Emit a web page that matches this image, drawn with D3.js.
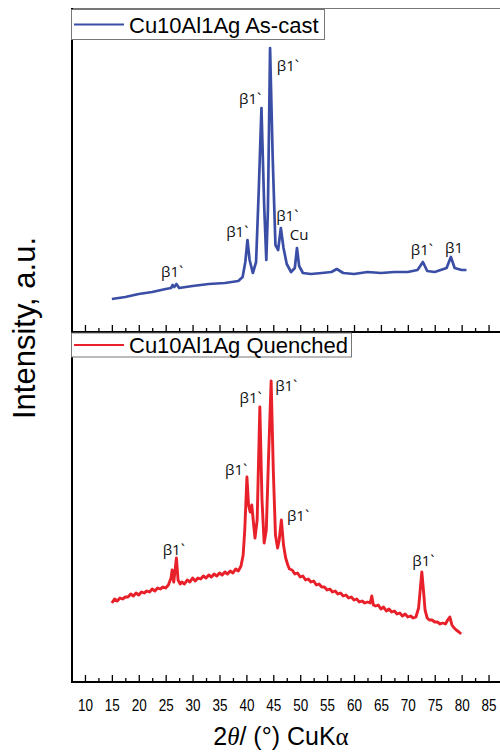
<!DOCTYPE html>
<html>
<head>
<meta charset="utf-8">
<script src="https://cdn.jsdelivr.net/npm/d3@7"></script>
<style>
  body { margin: 0; background: #fff; }
  svg { display: block; }
</style>
</head>
<body>
<script>
// Two-theta positions (deg) and intensities (a.u.)
const castTheta = [15, 17.5, 20, 22.5, 25, 26.0, 26.3, 26.6, 27.0, 27.5, 30, 33, 36, 38.5, 39.3, 39.8, 40.2, 40.6, 41.2, 41.8,
  42.3, 42.8, 43.3, 43.7, 44.0, 44.4, 44.9, 45.4, 45.9, 46.4, 46.9, 47.5, 48.3, 49.0, 49.4, 49.8, 50.5, 52, 54, 55.8,
  56.8, 58, 60, 62.5, 65, 67.5, 70, 71.8, 72.8, 73.6, 75, 77.2, 78.0, 78.7, 80, 80.9];
const castInt = [33, 35, 38, 40, 43, 44, 47, 45, 48, 44, 46, 48, 49, 51, 55, 70, 92, 72, 59, 70,
  142, 224, 127, 72, 122, 284, 172, 87, 82, 104, 84, 68, 60, 64, 84, 66, 59, 58, 59, 60,
  63, 59, 58, 60, 59, 60, 60, 62, 70, 61, 60, 64, 75, 64, 62, 62];

const quenchTheta = [15, 15.5, 16, 16.5, 17, 17.5, 18, 18.5, 19, 19.5, 20, 20.5, 21, 21.5, 22, 22.5, 23, 23.5, 24, 24.5,
  25, 25.5, 26.0, 26.2, 26.5, 27.0, 27.3, 27.7, 28, 28.5, 29, 29.5, 30, 30.5, 31, 31.5, 32, 32.5, 33, 33.5,
  34, 34.5, 35, 35.5, 36, 36.5, 37, 37.5, 38, 38.5, 39, 39.4, 39.7, 40.1, 40.4, 40.7, 41, 41.3, 41.6, 42.0,
  42.5, 42.9, 43.3, 43.7, 44.1, 44.6, 45.0, 45.4, 45.8, 46.1, 46.5, 46.9, 47.3, 47.7, 48, 48.5, 49, 49.5, 50, 50.5,
  51, 51.5, 52, 52.5, 53, 53.5, 54, 54.5, 55, 55.5, 56, 56.5, 57, 57.5, 58, 58.5, 59, 59.5, 60, 60.5,
  61, 61.5, 62, 62.5, 63, 63.3, 63.6, 64, 64.5, 65, 65.5, 66, 66.5, 67, 67.5, 68, 68.5, 69, 69.5, 70,
  70.5, 71, 71.5, 72.0, 72.3, 72.6, 72.9, 73.2, 73.6, 74, 74.5, 75, 75.5, 76, 76.5, 77, 77.4, 77.8, 78.2, 78.6,
  79, 79.5, 79.9];
const quenchInt = [79, 83, 81, 84, 83, 85, 85, 88, 86, 89, 87, 90, 89, 91, 90, 93, 91, 94, 93, 95,
  94, 97, 104, 112, 100, 124, 102, 98, 100, 98, 102, 100, 104, 101, 104, 103, 106, 104, 107, 105,
  108, 106, 109, 107, 110, 108, 111, 109, 113, 111, 116, 127, 152, 205, 177, 170, 177, 160, 144, 162,
  275, 182, 139, 152, 222, 301, 212, 147, 134, 142, 162, 137, 124, 117, 113, 112, 108, 109, 105, 106,
  102, 103, 100, 101, 97, 98, 95, 95, 92, 93, 90, 91, 88, 89, 86, 87, 84, 85, 82, 83,
  80, 81, 79, 80, 79, 86, 77, 76, 77, 73, 75, 71, 73, 70, 71, 68, 69, 66, 68, 65,
  66, 64, 65, 74, 92, 110, 92, 72, 64, 62, 62, 60, 60, 58, 59, 58, 62, 65, 57, 54,
  52, 50, 48];

const majorTicks = [10, 15, 20, 25, 30, 35, 40, 45, 50, 55, 60, 65, 70, 75, 80, 85];
const minorTicks = [12.5, 17.5, 22.5, 27.5, 32.5, 37.5, 42.5, 47.5, 52.5, 57.5, 62.5, 67.5, 72.5, 77.5, 82.5, 87.5];

// peak labels: [theta, intensity, text]
const castLabels = [[26.2, 55, "β1`"], [38.3, 95, "β1`"], [40.7, 228, "β1`"], [47.7, 261, "β1`"],
  [47.6, 111, "β1`"], [49.8, 92, "Cu"], [72.6, 77, "β1`"], [78.6, 79, "β1"]];
const quenchLabels = [[26.5, 127, "β1`"], [38.1, 207, "β1`"], [40.8, 279, "β1`"], [47.4, 291, "β1`"],
  [49.6, 161, "β1`"], [72.9, 116, "β1`"]];

const width = 500, height = 753;
const svg = d3.select("body").append("svg").attr("width", width).attr("height", height);

const x = d3.scaleLinear().domain([7.5, 87.5]).range([71.5, 502]);
const yTop = d3.scaleLinear().domain([0, 324]).range([332, 8]);
const yBot = d3.scaleLinear().domain([0, 350]).range([682, 332]);

const blue = "#3a4ea6";
const red = "#e8202a";

// frame
svg.append("line").attr("x1", 71).attr("x2", 500).attr("y1", 8.5).attr("y2", 8.5)
  .attr("stroke", "#777").attr("stroke-width", 1.2);

// series
function drawSeries(theta, vals, yScale, color, sw) {
  const pts = theta.map((t, i) => [t, vals[i]]);
  svg.append("path")
    .datum(pts)
    .attr("fill", "none")
    .attr("stroke", color)
    .attr("stroke-width", sw)
    .attr("stroke-linejoin", "round")
    .attr("d", d3.line().x(d => x(d[0])).y(d => yScale(d[1])));
}
drawSeries(castTheta, castInt, yTop, blue, 2.7);
drawSeries(quenchTheta, quenchInt, yBot, red, 2.9);

// axes with inward ticks
function drawAxis(yPos, withLabels) {
  const g = svg.append("g").attr("transform", `translate(0,${yPos})`);
  g.append("g")
    .call(d3.axisBottom(x).tickValues(minorTicks).tickSize(-4).tickFormat(""))
    .call(a => a.select(".domain").remove())
    .selectAll("line").attr("stroke", "#000").attr("stroke-width", 1.3);
  const maj = g.append("g")
    .call(d3.axisBottom(x).tickValues(majorTicks).tickSize(-7).tickPadding(17))
    .call(a => a.select(".domain").remove());
  maj.selectAll("line").attr("stroke", "#000").attr("stroke-width", 1.3);
  if (withLabels) {
    maj.selectAll("text")
      .attr("font-family", "Liberation Sans, Arial, sans-serif")
      .attr("font-size", 17)
      .attr("fill", "#000")
      .attr("textLength", 15)
      .attr("lengthAdjust", "spacingAndGlyphs");
  } else {
    maj.selectAll("text").remove();
  }
  g.append("line").attr("x1", 71).attr("x2", 500).attr("y1", 0).attr("y2", 0)
    .attr("stroke", "#000").attr("stroke-width", 2);
}
drawAxis(332, false);
drawAxis(682, true);

svg.append("line").attr("x1", 72).attr("x2", 72).attr("y1", 8).attr("y2", 683)
  .attr("stroke", "#000").attr("stroke-width", 2);

// legends
function legend(y0, h, w, color, label) {
  const g = svg.append("g");
  g.append("rect").attr("x", 71.5).attr("y", y0).attr("width", w).attr("height", h)
    .attr("fill", "#fff").attr("stroke", "#777").attr("stroke-width", 1);
  g.append("line").attr("x1", 74).attr("x2", 124).attr("y1", y0 + h / 2).attr("y2", y0 + h / 2)
    .attr("stroke", color).attr("stroke-width", 2.2);
  g.append("text").attr("x", 129).attr("y", y0 + h / 2 + 8)
    .attr("font-family", "Liberation Sans, Arial, sans-serif").attr("font-size", 22)
    .attr("fill", "#000").text(label);
}
legend(9.5, 30, 253, blue, "Cu10Al1Ag As-cast");
legend(333, 24, 280, red, "Cu10Al1Ag Quenched");

// peak labels
function peakLabels(list, yScale) {
  svg.append("g").selectAll("text").data(list).join("text")
    .attr("x", d => x(d[0]))
    .attr("y", d => yScale(d[1]))
    .attr("text-anchor", "middle")
    .attr("font-family", "Open Sans, Noto Sans, sans-serif")
    .attr("font-size", 15)
    .attr("fill", "#111")
    .text(d => d[2]);
}
peakLabels(castLabels, yTop);
peakLabels(quenchLabels, yBot);

// axis titles
svg.append("text")
  .attr("transform", "translate(35,328) rotate(-90)")
  .attr("text-anchor", "middle")
  .attr("font-family", "Liberation Sans, Arial, sans-serif")
  .attr("font-size", 31)
  .attr("fill", "#000")
  .text("Intensity, a.u.");

const xt = svg.append("text")
  .attr("x", 281).attr("y", 745)
  .attr("text-anchor", "middle")
  .attr("font-family", "Liberation Sans, Arial, sans-serif")
  .attr("font-size", 25)
  .attr("fill", "#000");
xt.append("tspan").text("2");
xt.append("tspan").attr("font-style", "italic").attr("font-family", "Liberation Serif, serif").text("θ");
xt.append("tspan").text("/ (°) CuK");
xt.append("tspan").attr("font-family", "Liberation Serif, serif").text("α");
</script>
</body>
</html>
